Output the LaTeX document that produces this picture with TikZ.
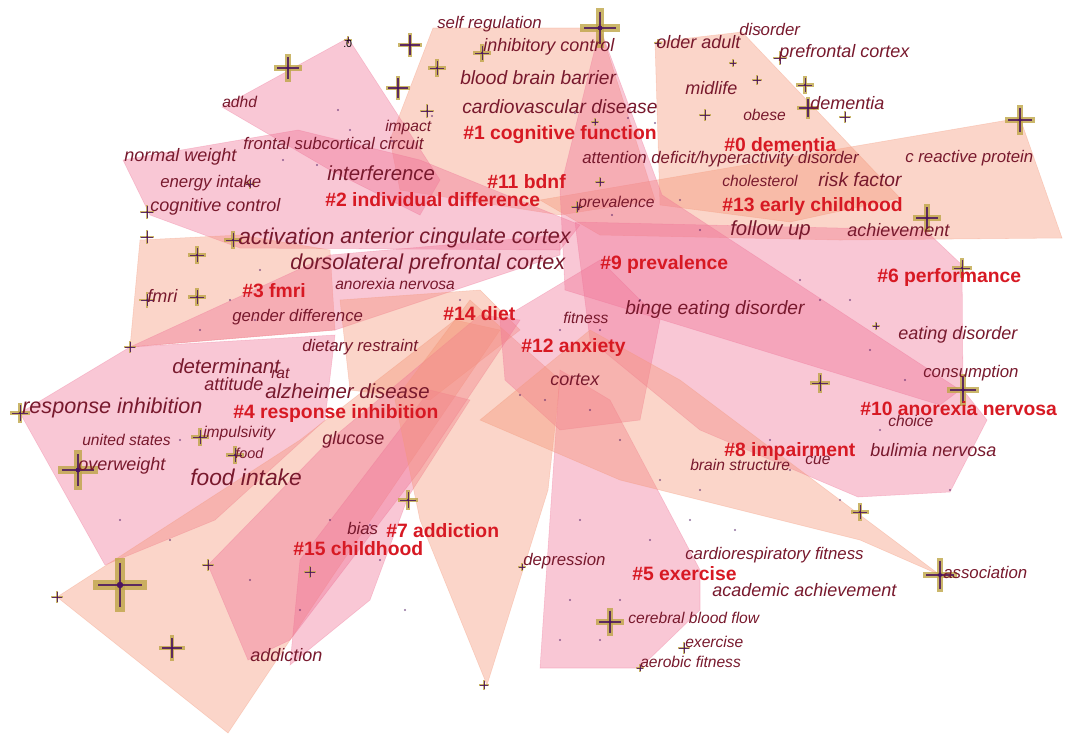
\documentclass[tikz,border=0pt]{standalone}
\usepackage{fontspec}
\setmainfont{Liberation Sans}
\definecolor{clpink}{RGB}{240,115,150}
\definecolor{clsalmon}{RGB}{245,150,120}
\definecolor{kwred}{RGB}{120,25,45}
\definecolor{clred}{RGB}{215,25,35}
\definecolor{crgold}{RGB}{190,165,70}
\definecolor{crpurple}{RGB}{75,20,95}
\tikzset{
  hullp/.style={fill=clpink,fill opacity=0.4,draw=clpink,draw opacity=0.35,line width=0.4pt},
  hulls/.style={fill=clsalmon,fill opacity=0.4,draw=clsalmon,draw opacity=0.35,line width=0.4pt},
  kw/.style={anchor=west,inner sep=0pt,text=kwred,font=\itshape\fontsize{#1}{#1}\selectfont},
  kw/.default=12.6,
  cl/.style={anchor=west,inner sep=0pt,text=clred,font=\bfseries\fontsize{14.5}{14.5}\selectfont},
}
\begin{document}
\begin{tikzpicture}[x=0.75pt,y=-0.75pt]
  \useasboundingbox[fill=white] (0,0) rectangle (1066,736);
  % cluster hulls
  \fill[hulls] (540,200) -- (1020,118) -- (1062,238) -- (840,240) -- (600,235) -- cycle;
  \fill[hulls] (655,42) -- (742,32) -- (900,198) -- (790,222) -- (660,205) -- cycle;
  \fill[hulls] (433,28) -- (600,28) -- (655,200) -- (560,215) -- (400,190) -- (390,140) -- cycle;
  \fill[hullp] (348,38) -- (440,180) -- (420,215) -- (330,170) -- (222,107) -- cycle;
  \fill[hullp] (123,160) -- (298,130) -- (420,160) -- (580,225) -- (560,250) -- (240,248) -- (150,215) -- cycle;
  \fill[hullp] (600,28) -- (662,195) -- (960,390) -- (940,405) -- (565,290) -- (560,190) -- cycle;
  \fill[hullp] (575,222) -- (925,230) -- (962,265) -- (963,390) -- (987,420) -- (950,492) -- (858,497) -- (700,430) -- (590,340) -- cycle;
  \fill[hulls] (140,240) -- (240,235) -- (330,250) -- (335,330) -- (130,347) -- cycle;
  \fill[hullp] (130,347) -- (330,255) -- (560,235) -- (560,255) -- (335,330) -- cycle;
  \fill[hulls] (340,300) -- (480,290) -- (520,330) -- (430,400) -- (350,390) -- cycle;
  \fill[hullp] (20,413) -- (130,347) -- (335,335) -- (325,420) -- (215,520) -- (105,565) -- cycle;
  \fill[hulls] (57,597) -- (228,733) -- (330,580) -- (500,330) -- (455,320) -- (300,440) -- cycle;
  \fill[hullp] (208,565) -- (248,660) -- (290,640) -- (420,470) -- (520,320) -- (480,315) -- (330,440) -- cycle;
  \fill[hullp] (290,665) -- (370,600) -- (408,497) -- (470,400) -- (430,390) -- (300,560) -- cycle;
  \fill[hulls] (487,685) -- (420,520) -- (395,400) -- (470,300) -- (560,380) -- (548,490) -- cycle;
  \fill[hullp] (500,320) -- (600,260) -- (660,320) -- (640,420) -- (560,430) -- (505,380) -- cycle;
  \fill[hullp] (540,668) -- (640,668) -- (700,610) -- (700,570) -- (610,400) -- (560,370) -- cycle;
  \fill[hulls] (480,420) -- (590,330) -- (680,380) -- (940,575) -- (860,540) -- (620,480) -- cycle;
  % small dots
  \foreach \x/\y in {283/160, 317/165, 338/110, 350/130, 392/141, 432/116, 575/113, 628/118, 655/123,
      680/200, 612/215, 700/230, 640/300, 600/330, 560/330, 520/395, 545/400, 590/410, 620/440,
      660/480, 700/490, 770/440, 790/470, 820/300, 800/280, 850/300, 870/350, 880/430, 905/380,
      690/520, 580/520, 600/640, 620/600, 570/600, 560/640, 250/580, 300/610, 380/560,
      370/525, 330/520, 255/320, 230/300, 260/270, 200/330, 460/300, 950/490, 760/30, 405/610,
      180/440, 120/520, 170/540, 600/350, 650/540, 735/530, 840/500}
    \fill[crpurple,opacity=0.6] (\x,\y) circle (0.9pt);
  % citation crosses
  \foreach \x/\y/\r in {600/28/20,288/68/14,410/45/12,398/88/12,437/68/9,427/111/7,348/40/4,
      482/53/9,595/122/4,600/182/5,577/207/6,658/43/4,733/63/4,757/80/5,805/85/9,
      808/108/11,845/117/6,705/115/6,780/58/7,1020/120/15,927/218/14,962/268/10,
      963/390/16,820/383/10,876/326/4,78/470/20,120/585/27,172/648/13,57/597/6,
      20/413/10,147/212/7,147/237/7,197/255/9,197/297/9,147/300/8,130/347/6,
      233/240/9,250/184/5,200/437/9,235/455/9,408/500/10,310/572/6,208/565/6,
      940/575/17,860/512/9,610/622/14,684/648/6,640/668/4,522/567/4,484/685/5}{
    \fill[crgold,opacity=0.8] ({\x-\r},{\y-0.18*\r}) rectangle ({\x+\r},{\y+0.18*\r});
    \fill[crgold,opacity=0.8] ({\x-0.18*\r},{\y-\r}) rectangle ({\x+0.18*\r},{\y+\r});
    \fill[crpurple,opacity=0.85] ({\x-0.8*\r},{\y-0.05*\r}) rectangle ({\x+0.8*\r},{\y+0.05*\r});
    \fill[crpurple,opacity=0.85] ({\x-0.05*\r},{\y-0.8*\r}) rectangle ({\x+0.05*\r},{\y+0.8*\r});
    \fill[crpurple] (\x,\y) circle ({0.12*\r*0.75pt});
  }
  % keywords
  \node[text=black,anchor=west,inner sep=0pt,font=\fontsize{8}{8}\selectfont] (dotnum) at (343,44) {.0};
  \node[kw=12.6] (selfreg) at (437,24) {self regulation};
  \node[kw=13.5] (inhibctrl) at (483,47) {inhibitory control};
  \node[kw=13.5] (olderad) at (656,42) {older adult};
  \node[kw=12.6] (disorder) at (739,29) {disorder};
  \node[kw=13.5] (pfc) at (779,53) {prefrontal cortex};
  \node[kw=14.4] (bbb) at (460,78) {blood brain barrier};
  \node[kw=13.5] (midlife) at (685,88) {midlife};
  \node[kw=11.7] (adhd) at (222,102) {adhd};
  \node[kw=14.4] (cvd) at (462,107) {cardiovascular disease};
  \node[kw=11.7] (obese) at (743,115) {obese};
  \node[kw=13.5] (dementia) at (810,103) {dementia};
  \node[kw=11.7] (impact) at (385,127) {impact};
  \node[kw=12.6] (fsc) at (243,143) {frontal subcortical circuit};
  \node[kw=12.6] (adhdlong) at (582,159) {attention deficit/hyperactivity disorder};
  \node[kw=12.6] (crp) at (905,158) {c reactive protein};
  \node[kw=13.5] (normw) at (124,157) {normal weight};
  \node[kw=15.3] (interf) at (327,173) {interference};
  \node[kw=11.7] (chol) at (722,181) {cholesterol};
  \node[kw=14.4] (riskf) at (818,180) {risk factor};
  \node[kw=12.6] (energy) at (160,183) {energy intake};
  \node[kw=11.7] (preval) at (578,203) {prevalence};
  \node[kw=13.5] (cogctrl) at (150,207) {cognitive control};
  \node[kw=15.3] (follow) at (730,230) {follow up};
  \node[kw=13.5] (achiev) at (847,230) {achievement};
  \node[kw=17.1] (activ) at (238,236) {activation};
  \node[kw=16.2] (acc) at (340,238) {anterior cingulate cortex};
  \node[kw=16.2] (dlpfc) at (290,264) {dorsolateral prefrontal cortex};
  \node[kw=11.7] (anorex) at (335,284) {anorexia nervosa};
  \node[kw=13.5] (fmri) at (147,296) {fmri};
  \node[kw=12.6] (gender) at (232,317) {gender difference};
  \node[kw=14.4] (binge) at (625,310) {binge eating disorder};
  \node[kw=11.7] (fitness) at (563,318) {fitness};
  \node[kw=13.5] (eatdis) at (898,335) {eating disorder};
  \node[kw=12.6] (dietres) at (302,347) {dietary restraint};
  \node[kw=15.3] (determ) at (172,366) {determinant};
  \node[kw=11.7] (rat) at (271,374) {rat};
  \node[kw=13.5] (attit) at (204,384) {attitude};
  \node[kw=15.3] (alzh) at (265,391) {alzheimer disease};
  \node[kw=13.5] (cortex) at (550,380) {cortex};
  \node[kw=12.6] (consum) at (923,373) {consumption};
  \node[kw=16.2] (respinh) at (22,408) {response inhibition};
  \node[kw=11.7] (usa) at (82,440) {united states};
  \node[kw=11.7] (impuls) at (203,433) {impulsivity};
  \node[kw=13.5] (glucose) at (322,440) {glucose};
  \node[kw=11.7] (choice) at (888,421) {choice};
  \node[kw=10.8] (food) at (235,453) {food};
  \node[kw=13.5] (bulimia) at (870,450) {bulimia nervosa};
  \node[kw=13.5] (overw) at (78,466) {overweight};
  \node[kw=11.7] (brainst) at (690,465) {brain structure};
  \node[kw=11.7] (cue) at (805,460) {cue};
  \node[kw=17.1] (foodint) at (190,477) {food intake};
  \node[kw=12.6] (bias) at (347,528) {bias};
  \node[kw=12.6] (depress) at (523,561) {depression};
  \node[kw=12.6] (cardio) at (685,555) {cardiorespiratory fitness};
  \node[kw=12.6] (assoc) at (943,572) {association};
  \node[kw=13.5] (academ) at (712,590) {academic achievement};
  \node[kw=11.7] (cbf) at (628,618) {cerebral blood flow};
  \node[kw=11.7] (exerc) at (685,642) {exercise};
  \node[kw=11.7] (aerob) at (640,662) {aerobic fitness};
  \node[kw=13.5] (addict) at (250,655) {addiction};
  % cluster labels
  \node[cl] (c1) at (463,135) {\#1 cognitive function};
  \node[cl] (c0) at (724,145) {\#0 dementia};
  \node[cl] (c11) at (487,182) {\#11 bdnf};
  \node[cl] (c2) at (325,200) {\#2 individual difference};
  \node[cl] (c13) at (722,206) {\#13 early childhood};
  \node[cl] (c9) at (600,264) {\#9 prevalence};
  \node[cl] (c6) at (877,277) {\#6 performance};
  \node[cl] (c3) at (242,291) {\#3 fmri};
  \node[cl] (c14) at (443,314) {\#14 diet};
  \node[cl] (c12) at (521,347) {\#12 anxiety};
  \node[cl] (c4) at (233,413) {\#4 response inhibition};
  \node[cl] (c10) at (860,409) {\#10 anorexia nervosa};
  \node[cl] (c8) at (724,451) {\#8 impairment};
  \node[cl] (c7) at (386,531) {\#7 addiction};
  \node[cl] (c15) at (293,549) {\#15 childhood};
  \node[cl] (c5) at (632,574) {\#5 exercise};
\end{tikzpicture}
\end{document}
